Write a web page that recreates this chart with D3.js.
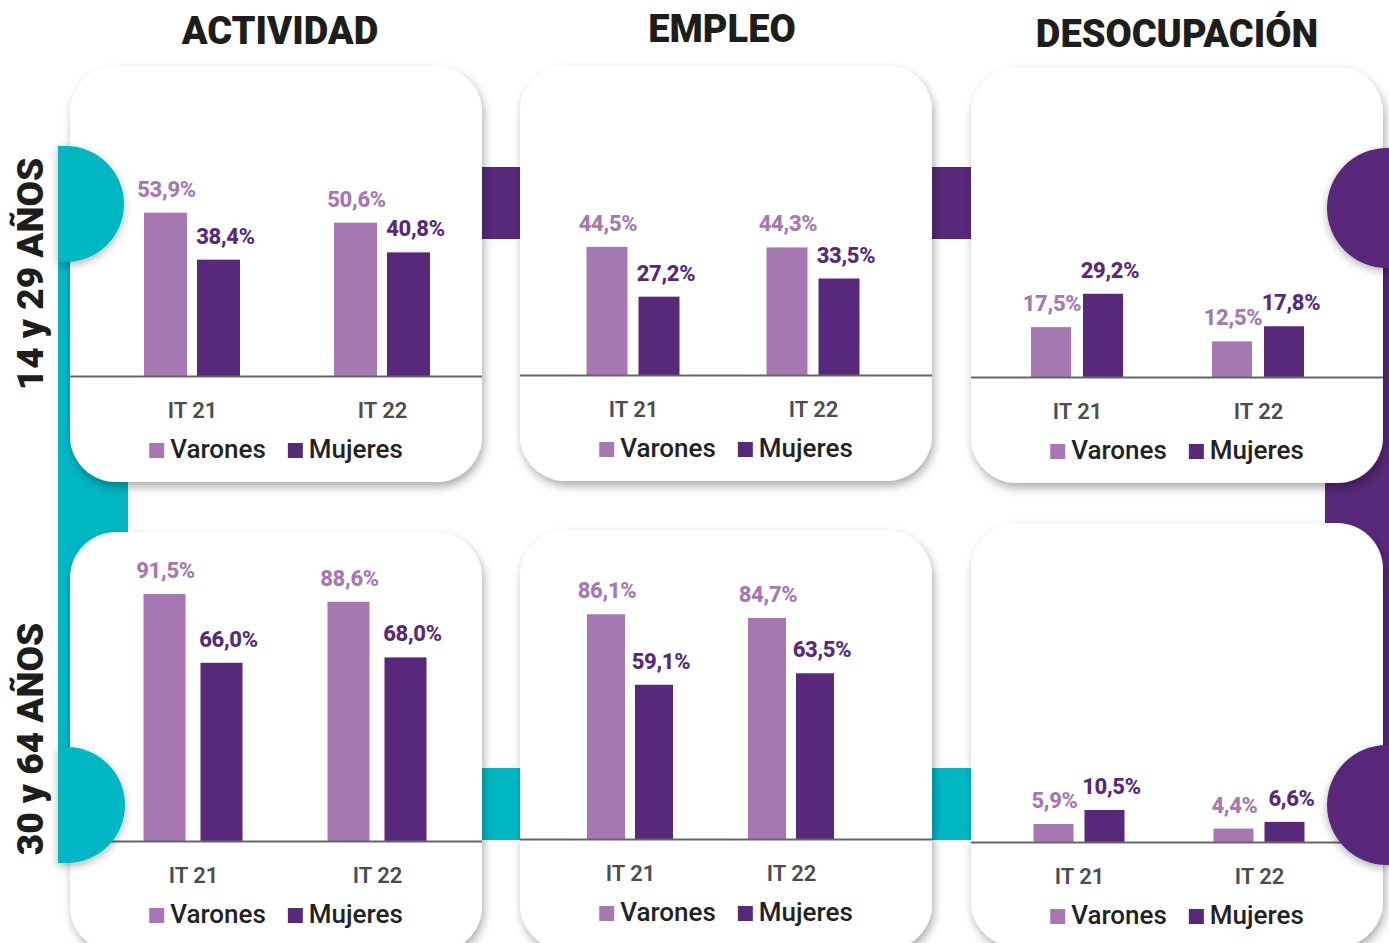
<!DOCTYPE html>
<html>
<head>
<meta charset="utf-8">
<script src="https://cdn.jsdelivr.net/npm/d3@7"></script>
<style>
  html, body { margin: 0; padding: 0; background: #ffffff; }
  svg { display: block; }
  text { font-family: Roboto, "Noto Sans", sans-serif; }
</style>
</head>
<body>
<svg id="chart" width="1389" height="943"></svg>
<script>
// ---------- DATA ----------
const categories = ["IT 21", "IT 22"];
const series = ["Varones", "Mujeres"];
const indicators = ["ACTIVIDAD", "EMPLEO", "DESOCUPACIÓN"];
const ageGroups = ["14 y 29 AÑOS", "30 y 64 AÑOS"];

const actividad14Varones = [53.9, 50.6];
const actividad14Mujeres = [38.4, 40.8];
const empleo14Varones = [44.5, 44.3];
const empleo14Mujeres = [27.2, 33.5];
const desocupacion14Varones = [17.5, 12.5];
const desocupacion14Mujeres = [29.2, 17.8];

const actividad30Varones = [91.5, 88.6];
const actividad30Mujeres = [66.0, 68.0];
const empleo30Varones = [86.1, 84.7];
const empleo30Mujeres = [59.1, 63.5];
const desocupacion30Varones = [5.9, 4.4];
const desocupacion30Mujeres = [10.5, 6.6];

// ---------- STYLE / LAYOUT ----------
const colors = { Varones: "#a777b4", Mujeres: "#58287a" };
const teal = "#00b7c3";
const purple = "#58287a";
const cardW = 412;

const panels = [
  { v: actividad14Varones, m: actividad14Mujeres, cx: 70, cy: 66, ch: 416, base: 376, k: 3.03, c: [192, 382], w: 43, gap: 10 },
  { v: empleo14Varones, m: empleo14Mujeres, cx: 520, cy: 65, ch: 416, base: 375, k: 2.88, c: [633, 813], w: 41, gap: 11 },
  { v: desocupacion14Varones, m: desocupacion14Mujeres, cx: 971, cy: 67, ch: 416, base: 377, k: 2.85, c: [1077, 1258], w: 40, gap: 12 },
  { v: actividad30Varones, m: actividad30Mujeres, cx: 70, cy: 532, ch: 420, base: 841, k: 2.70, c: [193, 377], w: 42, gap: 15 },
  { v: empleo30Varones, m: empleo30Mujeres, cx: 520, cy: 530, ch: 420, base: 839, k: 2.61, c: [630, 791], w: 38, gap: 10 },
  { v: desocupacion30Varones, m: desocupacion30Mujeres, cx: 971, cy: 523, ch: 424, base: 842, k: 3.05, c: [1079, 1259], w: 40, gap: 11 }
];

const svg = d3.select("#chart");
const defs = svg.append("defs");
const sh = defs.append("filter").attr("id", "shadow")
  .attr("x", "-20%").attr("y", "-20%").attr("width", "140%").attr("height", "140%");
sh.append("feDropShadow").attr("dx", 2).attr("dy", 5).attr("stdDeviation", 5)
  .attr("flood-color", "#000").attr("flood-opacity", 0.32);
const sh2 = defs.append("filter").attr("id", "shadow2")
  .attr("x", "-30%").attr("y", "-30%").attr("width", "160%").attr("height", "160%");
sh2.append("feDropShadow").attr("dx", 0).attr("dy", 3).attr("stdDeviation", 4)
  .attr("flood-color", "#000").attr("flood-opacity", 0.3);

// ---------- BACKGROUND DECORATION ----------
const deco = svg.append("g");
deco.append("rect").attr("x", 58).attr("y", 204).attr("width", 70).attr("height", 601).attr("fill", teal);
deco.append("rect").attr("x", 1325).attr("y", 208).attr("width", 64).attr("height", 598).attr("fill", purple);
[[482, 167, purple], [932, 167, purple], [482, 768, teal], [932, 768, teal]].forEach(([x, y, c]) => {
  deco.append("rect").attr("x", x).attr("y", y).attr("width", 39).attr("height", 72).attr("fill", c);
});

// ---------- TITLES ----------
const titleX = [280, 722, 1177];
const titleY = [44, 42, 47];
svg.selectAll("text.title").data(indicators).join("text")
  .attr("class", "title")
  .attr("x", (d, i) => titleX[i]).attr("y", (d, i) => titleY[i])
  .attr("text-anchor", "middle")
  .attr("font-size", 38).attr("font-weight", 900).attr("fill", "#1d1d1b")
  .text(d => d);

// ---------- CARDS ----------
const fmt = v => d3.format(".1f")(v).replace(".", ",") + "%";

panels.forEach(p => {
  const g = svg.append("g");
  g.append("rect").attr("x", p.cx).attr("y", p.cy).attr("width", cardW).attr("height", p.ch)
    .attr("rx", 46).attr("ry", 46).attr("fill", "#fff").attr("filter", "url(#shadow)");

  const y = d3.scaleLinear().domain([0, 100]).range([p.base, p.base - 100 * p.k]);
  const x0 = d3.scalePoint().domain(categories).range(p.c);
  const x1 = d3.scaleBand().domain(series)
    .range([-(p.w + p.gap / 2), p.w + p.gap / 2])
    .paddingInner(p.gap / (p.w + p.gap)).paddingOuter(0);

  const rows = categories.map((cat, i) => ({ cat, values: [
    { s: "Varones", v: p.v[i] }, { s: "Mujeres", v: p.m[i] } ] }));

  const grp = g.selectAll("g.grp").data(rows).join("g")
    .attr("transform", d => `translate(${x0(d.cat)},0)`);
  grp.selectAll("rect").data(d => d.values).join("rect")
    .attr("x", d => x1(d.s)).attr("width", x1.bandwidth())
    .attr("y", d => y(d.v)).attr("height", d => y(0) - y(d.v))
    .attr("fill", d => colors[d.s]);
  grp.selectAll("text").data(d => d.values).join("text")
    .attr("x", d => x1(d.s) + x1.bandwidth() / 2 + (d.s === "Mujeres" ? 7 : 1))
    .attr("y", d => y(d.v) - 16)
    .attr("text-anchor", "middle")
    .attr("font-size", 22).attr("font-weight", 800)
    .attr("letter-spacing", -0.3)
    .attr("fill", d => colors[d.s])
    .text(d => fmt(d.v));

  g.append("line").attr("x1", p.cx).attr("x2", p.cx + cardW)
    .attr("y1", y(0) + 0.5).attr("y2", y(0) + 0.5)
    .attr("stroke", "#666").attr("stroke-width", 2.2);

  const ax = g.append("g").attr("transform", `translate(0,${y(0)})`)
    .call(d3.axisBottom(x0).tickSize(0).tickPadding(24));
  ax.select(".domain").remove();
  ax.selectAll("text").attr("font-size", 22).attr("font-weight", 600)
    .attr("fill", "#4d4d4d").attr("font-family", "Roboto, sans-serif").attr("dy", "0.71em")
    .attr("y", 26);

  const lg = g.append("g");
  let xpos = 0;
  series.forEach(s => {
    const it = lg.append("g");
    it.append("rect").attr("x", 0).attr("y", -15).attr("width", 15).attr("height", 15).attr("fill", colors[s]);
    const t = it.append("text").attr("x", 21).attr("y", 0)
      .attr("font-size", 26).attr("font-weight", 500).attr("fill", "#222").text(s);
    const w = 21 + t.node().getComputedTextLength();
    it.attr("transform", `translate(${xpos},0)`);
    xpos += w + 22;
  });
  const total = xpos - 22;
  lg.attr("transform", `translate(${p.cx + cardW / 2 - total / 2},${y(0) + 82})`);
});

// ---------- FOREGROUND DECORATION (half discs) ----------
const fg = svg.append("g").attr("filter", "url(#shadow2)");
fg.append("path").attr("d", "M58,146 H66 A58,58 0 0 1 66,262 H58 Z").attr("fill", teal);
fg.append("path").attr("d", "M58,747 H67 A58,58 0 0 1 67,863 H58 Z").attr("fill", teal);
fg.append("path").attr("d", "M1389,148 H1387 A60,60 0 0 0 1387,268 H1389 Z").attr("fill", purple);
fg.append("path").attr("d", "M1389,745 H1387 A60,60 0 0 0 1387,865 H1389 Z").attr("fill", purple);

// ---------- ROW LABELS ----------
const rowY = [274, 739];
svg.selectAll("text.age").data(ageGroups).join("text")
  .attr("class", "age")
  .attr("transform", (d, i) => `translate(43,${rowY[i]}) rotate(-90)`)
  .attr("text-anchor", "middle")
  .attr("font-size", 37).attr("font-weight", 900).attr("fill", "#1d1d1b")
  .text(d => d);
</script>
</body>
</html>
